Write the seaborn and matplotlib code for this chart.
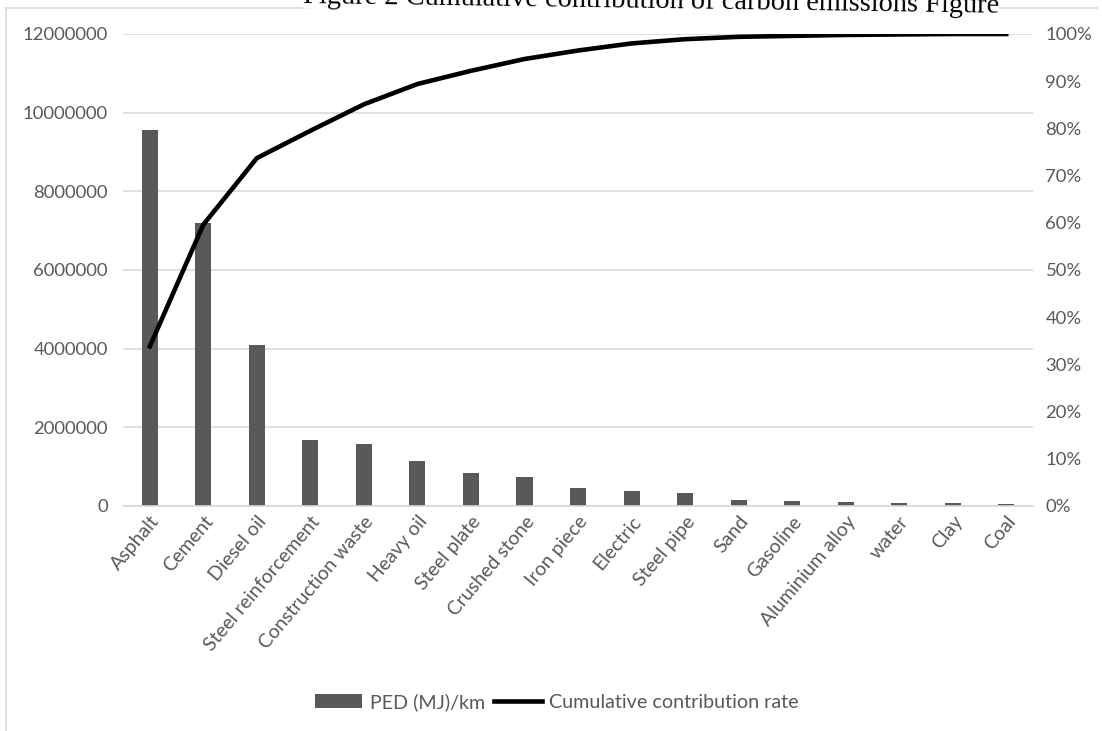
import numpy as np
import matplotlib
matplotlib.use("Agg")
import matplotlib.pyplot as plt
from matplotlib.lines import Line2D
from matplotlib.ticker import FuncFormatter, MultipleLocator
import seaborn as sns

categories = ["Asphalt", "Cement", "Diesel oil", "Steel reinforcement", "Construction waste",
              "Heavy oil", "Steel plate", "Crushed stone", "Iron piece", "Electric",
              "Steel pipe", "Sand", "Gasoline", "Aluminium alloy", "water", "Clay", "Coal"]
ped_values = [9560000, 7190000, 4090000, 1690000, 1570000, 1150000, 850000, 730000,
              470000, 390000, 320000, 140000, 130000, 110000, 70000, 70000, 50000]
cumulative_rate = [0.338, 0.596, 0.737, 0.795, 0.851, 0.894, 0.922, 0.947, 0.965,
                   0.980, 0.989, 0.994, 0.996, 0.998, 0.999, 1.0, 1.0]
bar_label = "PED (MJ)/km"
line_label = "Cumulative contribution rate"
title = "Figure 2 Cumulative contribution of carbon emissions Figure"

TXT = "#595959"
GRID = "#d9d9d9"
plt.rcParams["font.family"] = ["Lato", "DejaVu Sans"]

fig = plt.figure(figsize=(11.02, 7.31), dpi=100)
W, H = 1102, 731
l, r, t, b = 123, 1033, 34, 506
ax = fig.add_axes([l / W, 1 - b / H, (r - l) / W, (b - t) / H])

sns.barplot(x=categories, y=ped_values, ax=ax, color="#595959", saturation=1,
            width=0.3, edgecolor="none", errorbar=None)
ax2 = ax.twinx()
sns.pointplot(x=categories, y=cumulative_rate, ax=ax2, color="black",
              markers="", linewidth=3.3, errorbar=None)

ax.set_ylim(0, 12000000)
ax.yaxis.set_major_locator(MultipleLocator(2000000))
ax.yaxis.set_major_formatter(FuncFormatter(lambda v, p: f"{int(round(v))}"))
ax2.set_ylim(0, 1.0)
ax2.yaxis.set_major_locator(MultipleLocator(0.1))
ax2.yaxis.set_major_formatter(FuncFormatter(lambda v, p: f"{int(round(v * 100))}%"))
ax.set_xlim(-0.5, len(categories) - 0.5)

ax.set_xticks(range(len(categories)))
ax.set_xticklabels(categories, rotation=50, ha="right", rotation_mode="anchor")
for a in (ax, ax2):
    a.set_xlabel("")
    a.set_ylabel("")
    for s in a.spines.values():
        s.set_visible(False)
ax.spines["bottom"].set_visible(True)
ax.spines["bottom"].set_color(GRID)
ax.spines["bottom"].set_linewidth(1.2)

ax.yaxis.grid(True, color=GRID, linewidth=1.2)
ax.xaxis.grid(False)
ax.set_axisbelow(True)
ax.tick_params(axis="y", length=0, pad=11, labelsize=13.3, labelcolor=TXT)
ax.tick_params(axis="x", length=0, pad=5, labelsize=14, labelcolor=TXT)
ax2.tick_params(axis="y", length=0, pad=9, labelsize=13.3, labelcolor=TXT)

handles = [ax.containers[0].patches[0], ax2.lines[0]]
leg = fig.legend(handles, [bar_label, line_label], loc="center",
                 bbox_to_anchor=(557 / W, 1 - 702 / H), ncol=2, frameon=False,
                 fontsize=14.2, handlelength=2.4, columnspacing=0.45, handletextpad=0.4,
                 labelcolor=TXT)

# outer frame (top and left edges visible in the reference)
fig.add_artist(Line2D([6 / W, 1097 / W], [1 - 8 / H, 1 - 8 / H], color=GRID, lw=1.2,
                      transform=fig.transFigure))
fig.add_artist(Line2D([6 / W, 6 / W], [1 - 8 / H, 0], color=GRID, lw=1.2,
                      transform=fig.transFigure))

fig.text(651 / W, 1 - 7.5 / H, title, ha="center", va="baseline", rotation=-0.8,
         rotation_mode="anchor", family=["Liberation Serif", "DejaVu Serif"],
         fontsize=20.4, color="black",
         bbox=dict(facecolor="white", edgecolor="none", pad=0))

fig.savefig("out.png", dpi=100, facecolor="white")
